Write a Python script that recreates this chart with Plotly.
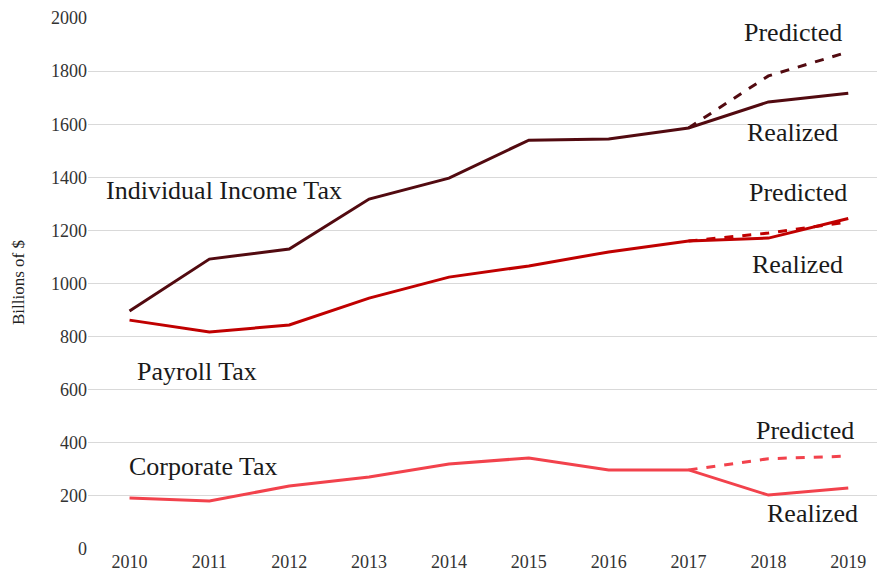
import plotly.graph_objects as go

years = ["2010", "2011", "2012", "2013", "2014", "2015", "2016", "2017", "2018", "2019"]
individual = [896, 1092, 1130, 1318, 1397, 1540, 1544, 1586, 1684, 1717]
pred_years = ["2017", "2018", "2019"]
individual_pred = [1586, 1782, 1872]
payroll = [862, 817, 844, 945, 1024, 1066, 1119, 1160, 1171, 1245]
payroll_pred = [1160, 1190, 1232]
corporate = [192, 181, 237, 271, 320, 343, 298, 298, 203, 230]
corporate_pred = [298, 340, 350]

c_ind = "#520a10"
c_pay = "#c00000"
c_cor = "#f2424c"

fig = go.Figure()
lw = 3
fig.add_trace(go.Scatter(x=years, y=individual, mode="lines", line=dict(color=c_ind, width=lw)))
fig.add_trace(go.Scatter(x=pred_years, y=individual_pred, mode="lines",
                         line=dict(color=c_ind, width=lw, dash="dash")))
fig.add_trace(go.Scatter(x=years, y=payroll, mode="lines", line=dict(color=c_pay, width=lw)))
fig.add_trace(go.Scatter(x=pred_years, y=payroll_pred, mode="lines",
                         line=dict(color=c_pay, width=lw, dash="dash")))
fig.add_trace(go.Scatter(x=years, y=corporate, mode="lines", line=dict(color=c_cor, width=lw)))
fig.add_trace(go.Scatter(x=pred_years, y=corporate_pred, mode="lines",
                         line=dict(color=c_cor, width=lw, dash="dash")))

font = "Liberation Serif"
labels = [
    ("Individual Income Tax", 1.18, 1352),
    ("Payroll Tax", 0.84, 667),
    ("Corporate Tax", 0.92, 309),
    ("Predicted", 8.31, 1944),
    ("Realized", 8.30, 1570),
    ("Predicted", 8.37, 1341),
    ("Realized", 8.37, 1070),
    ("Predicted", 8.46, 448),
    ("Realized", 8.55, 132),
]
for text, x, y in labels:
    fig.add_annotation(x=x, y=y, text=text, showarrow=False, xref="x", yref="y",
                       font=dict(family=font, size=26, color="#1a1a1a"))

ML, MR, MT, MB = 80, 8, 10, 44
W, H = 885, 585
plot_w = W - ML - MR
plot_h = H - MT - MB
# y-axis title as rotated text, centred at figure pixel (10, 275)
fig.add_annotation(x=(10 - ML) / plot_w, y=(H - MB - 275) / plot_h,
                   xref="paper", yref="paper", text="Billions of $",
                   showarrow=False, textangle=-90, xanchor="center", yanchor="middle",
                   font=dict(family=font, size=17, color="#222222"))

fig.update_layout(
    width=W, height=H,
    margin=dict(l=ML, r=MR, t=MT, b=MB),
    paper_bgcolor="white", plot_bgcolor="white",
    showlegend=False,
    font=dict(family=font, color="#333333"),
)
fig.update_xaxes(type="category", categoryorder="array", categoryarray=years,
                 range=[-0.52, 9.46], showgrid=False, showline=False, automargin=False,
                 ticks="", tickfont=dict(family=font, size=18, color="#333333"),
                 zeroline=False)
fig.update_yaxes(range=[0, 2000], dtick=200, showgrid=True, gridcolor="#d9d9d9", gridwidth=1,
                 zeroline=False, showline=False, ticks="", automargin=False,
                 tickfont=dict(family=font, size=18, color="#333333"))

fig.write_html("out.html")
